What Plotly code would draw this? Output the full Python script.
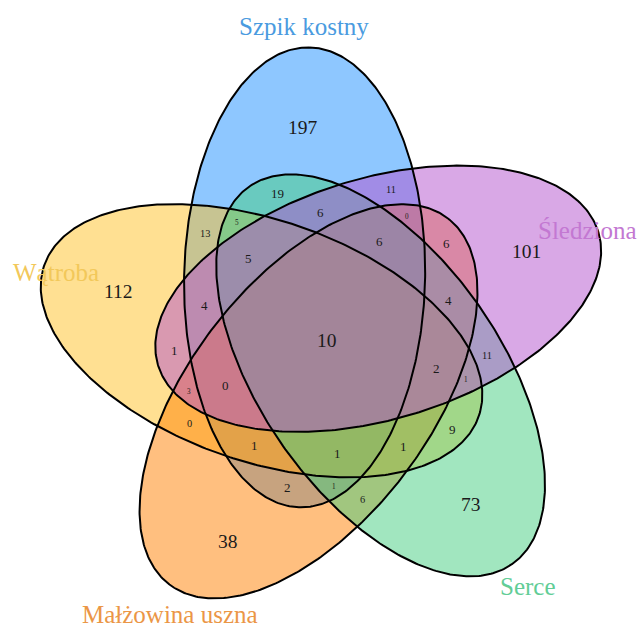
import numpy as np
import plotly.graph_objects as go

# ---------------- data ----------------
set_names = ["Szpik kostny", "Wątroba", "Małżowina uszna", "Serce", "Śledziona"]
set_codes = ["B", "W", "M", "S", "L"]

region_keys = ["B", "W", "M", "S", "L",
               "BW", "BM", "BS", "BL", "WM", "WS", "WL", "MS", "ML", "SL",
               "BWM", "BWS", "BWL", "BMS", "BML", "BSL", "WMS", "WML", "WSL", "MSL",
               "BWMS", "BWML", "BWSL", "BMSL", "WMSL",
               "BWMSL"]
region_counts = [197, 112, 38, 73, 101,
                 13, 2, 19, 11, 0, 9, 1, 6, 6, 11,
                 1, 5, 4, 1, 0, 6, 1, 3, 1, 4,
                 1, 0, 5, 6, 2,
                 10]

# ---------------- layout / style ----------------
fill_rgb = [(30, 144, 255), (255, 193, 37), (255, 127, 0), (67, 205, 128), (180, 82, 205)]
cat_colors = ["#4A9BE0", "#F2C85A", "#EB9646", "#62CD96", "#C378D2"]
cat_pos = [(304, 26), (56, 272), (170, 614), (528, 586), (587, 230)]

label_pos = {
    "B": (303, 127), "W": (118, 291), "M": (228, 541), "S": (471, 504), "L": (526, 251),
    "BW": (205, 233), "BM": (287, 487), "BS": (277, 193), "BL": (391, 189), "WM": (189, 423),
    "WS": (452, 429), "WL": (174, 350), "MS": (362, 499), "ML": (446, 243), "SL": (487, 355),
    "BWM": (254, 445), "BWS": (237, 223), "BWL": (204, 305), "BMS": (334, 487), "BML": (407, 217),
    "BSL": (320, 212), "WMS": (403, 446), "WML": (189, 392), "WSL": (466, 380), "MSL": (448, 300),
    "BWMS": (337, 453), "BWML": (225, 385), "BWSL": (248, 258), "BMSL": (379, 241), "WMSL": (436, 368),
    "BWMSL": (327, 340),
}
small_pairs = {"BW", "BL", "WM", "MS", "SL"}
tiny_triples = {"BWS", "BMS", "BML", "WML", "WSL"}


def label_size(key):
    n = len(key)
    if n == 1 or n == 5:
        return 19.5
    if n == 2:
        return 10.4 if key in small_pairs else 13
    if n == 3:
        return 7.2 if key in tiny_triples else 13
    return 13


# ellipse geometry (5-fold symmetric arrangement)
center = (326.7, 338.7)
offset_r = 65.2
first_angle = -109.8
step = -72.0
tilt = 21.0
semi_a = 120.5
semi_b = 230.0

t = np.linspace(0, 2 * np.pi, 400)
ellipses = []
for i in range(5):
    th = np.radians(first_angle + step * i)
    cx = center[0] + offset_r * np.cos(th)
    cy = center[1] + offset_r * np.sin(th)
    ph = th + np.radians(tilt)
    x = cx + semi_b * np.cos(t) * np.cos(ph) - semi_a * np.sin(t) * np.sin(ph)
    y = cy + semi_b * np.cos(t) * np.sin(ph) + semi_a * np.sin(t) * np.cos(ph)
    ellipses.append((x, y))

fig = go.Figure()
for (x, y), (r, g, b) in zip(ellipses, fill_rgb):
    fig.add_trace(go.Scatter(x=x, y=y, mode="lines", fill="toself",
                             fillcolor=f"rgba({r},{g},{b},0.5)",
                             line=dict(width=0, color="rgba(0,0,0,0)"),
                             hoverinfo="skip", showlegend=False))
for x, y in ellipses:
    fig.add_trace(go.Scatter(x=x, y=y, mode="lines",
                             line=dict(color="black", width=2),
                             hoverinfo="skip", showlegend=False))

annotations = []
for key, cnt in zip(region_keys, region_counts):
    px, py = label_pos[key]
    annotations.append(dict(x=px, y=py, text=str(cnt), showarrow=False,
                            xanchor="center", yanchor="middle",
                            font=dict(family="Liberation Serif", size=label_size(key), color="#1a1a1a")))
for name, col, (px, py) in zip(set_names, cat_colors, cat_pos):
    annotations.append(dict(x=px, y=py, text=name, showarrow=False,
                            xanchor="center", yanchor="middle",
                            font=dict(family="Liberation Serif", size=25, color=col)))

fig.update_layout(
    width=638, height=631,
    margin=dict(l=0, r=0, t=0, b=0),
    paper_bgcolor="white", plot_bgcolor="white",
    xaxis=dict(range=[0, 638], visible=False, fixedrange=True),
    yaxis=dict(range=[631, 0], visible=False, fixedrange=True),
    annotations=annotations,
    showlegend=False,
)

fig.write_html("out.html", config={"displayModeBar": False},
               post_script="document.body.style.margin='0';")
